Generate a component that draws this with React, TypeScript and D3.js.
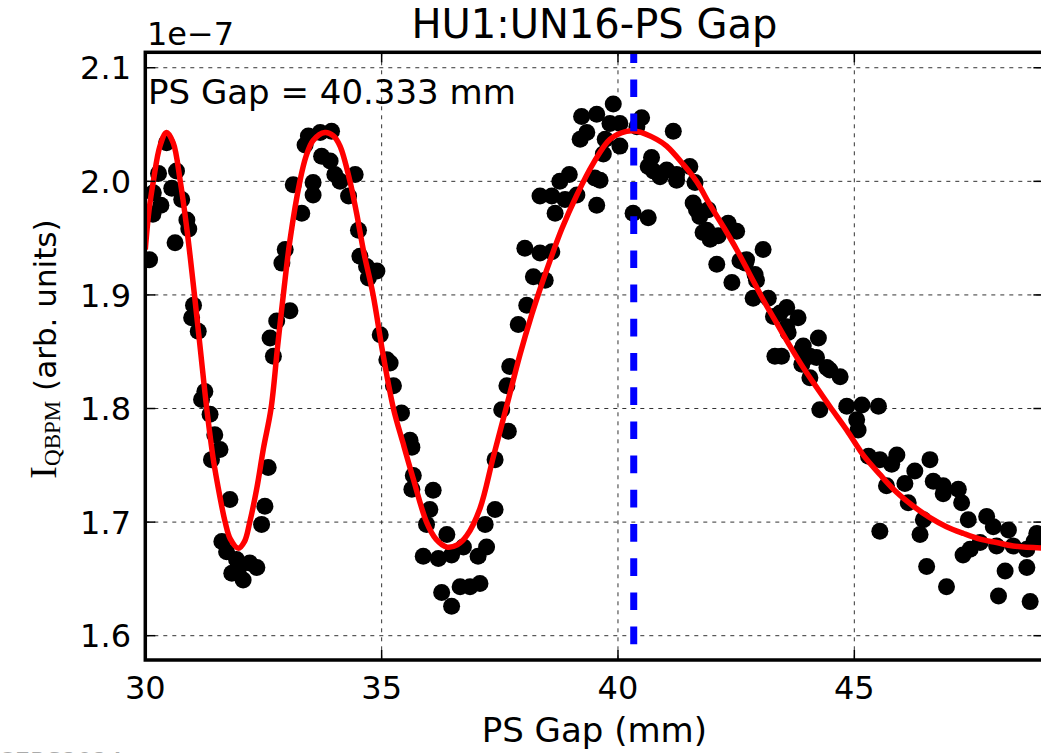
import React from "react";
import * as d3 from "d3";

// ---- data (x: PS gap in mm, y: I_QBPM in units of 1e-7) ----
const scatterGap = [
  30.09, 30.16, 30.17, 30.33, 30.28, 30.45, 30.66, 30.56, 30.77, 30.63, 30.88, 30.92,
  31.02, 30.98, 31.12, 31.26, 31.19, 31.37, 31.47, 31.58, 31.40, 31.79, 31.62, 31.72,
  31.93, 31.83, 32.07, 32.21, 32.36, 31.98, 32.46, 32.53, 32.60, 32.71, 32.64, 32.78,
  33.06, 32.89, 32.96, 33.13, 33.31, 33.55, 33.55, 33.38, 33.45, 33.70, 33.94, 33.73,
  33.91, 34.01, 34.44, 34.12, 34.30, 34.51, 34.54, 34.68, 34.90, 34.72, 34.97,
  35.11, 35.18, 35.25, 35.42, 35.64, 35.60, 35.67, 35.64, 36.09, 36.02, 35.95, 35.88,
  36.20, 36.38, 36.48, 36.73, 37.04, 37.22, 36.27, 36.48, 36.66, 36.87, 37.08, 37.19,
  37.40, 37.40, 37.54, 37.68, 37.65, 37.71, 37.89, 38.07, 38.21, 38.46, 38.03, 38.35,
  38.60, 38.35, 38.60, 38.67, 38.77, 38.88, 38.97, 39.13, 39.20, 39.23, 39.34, 39.51,
  39.55, 39.55, 39.69, 39.73, 39.62, 39.90, 39.83, 40.04, 40.04, 40.32, 40.50, 40.40,
  40.64, 40.71, 40.75,
  40.89, 41.17, 41.24, 41.52, 41.63, 41.59, 41.73, 41.91, 41.80, 41.95, 42.33, 42.51,
  42.09, 43.07, 42.58, 42.70, 42.90, 42.41, 42.86, 43.18, 43.29, 43.57, 43.81, 43.57,
  44.24, 43.32, 43.92, 44.20, 43.89, 44.42, 44.70, 43.60, 43.89, 44.06, 43.46, 44.27,
  44.84, 45.16, 45.51, 45.05, 45.08, 45.30, 45.54, 45.90, 45.79, 46.60, 46.28, 46.07,
  45.68, 46.67, 46.88, 47.20, 46.88, 47.27, 46.14, 46.46, 45.54, 46.39, 47.41, 47.80,
  47.94, 48.26, 47.66, 47.30, 47.45, 48.01, 48.36, 48.65, 48.86, 48.80, 48.19, 48.65,
  46.53, 46.95, 48.05, 48.72,
  40.64, 41.03, 41.24, 41.66, 41.88, 42.12, 42.72, 42.93, 43.43, 44.06, 44.48,
];
const scatterIntensity = [
  1.931, 1.971, 1.990, 1.979, 2.007, 2.034, 2.009, 1.994, 1.984, 1.946, 1.966, 1.958,
  1.891, 1.880, 1.868, 1.815, 1.808, 1.795, 1.777, 1.764, 1.755, 1.720, 1.683, 1.674,
  1.667, 1.655, 1.649, 1.664, 1.660, 1.660, 1.698, 1.714, 1.748, 1.846, 1.862, 1.877,
  1.886, 1.928, 1.940, 1.997, 1.972, 1.999, 1.988, 2.032, 2.040, 2.043, 2.044, 2.022,
  2.018, 2.006, 2.006, 2.000, 1.987, 1.957, 1.934, 1.925, 1.921, 1.915, 1.865,
  1.843, 1.840, 1.820, 1.796, 1.766, 1.772, 1.741, 1.729, 1.728, 1.711, 1.698, 1.670,
  1.668, 1.689, 1.671, 1.678, 1.670, 1.678, 1.638, 1.626, 1.643, 1.643, 1.646, 1.698,
  1.711, 1.755, 1.799, 1.780, 1.820, 1.837, 1.874, 1.891, 1.916, 1.913, 1.941, 1.937,
  1.938, 1.987, 1.987, 1.972, 2.000, 1.984, 2.006, 1.988, 2.037, 2.057, 2.043, 2.003,
  2.059, 1.979, 2.024, 2.037, 2.001, 2.068, 2.051, 2.031, 2.051, 1.972, 2.056, 2.048,
  1.968, 2.021, 2.009,
  2.004, 2.044, 2.006, 2.013, 1.999, 1.981, 1.969, 1.975, 1.955, 1.949, 1.963, 1.956,
  1.927, 1.940, 1.930, 1.928, 1.918, 1.911, 1.897, 1.897, 1.881, 1.889, 1.880, 1.872,
  1.862, 1.846, 1.855, 1.845, 1.839, 1.836, 1.828, 1.867, 1.852, 1.827, 1.846, 1.799,
  1.802, 1.803, 1.802, 1.790, 1.781, 1.758, 1.755, 1.759, 1.751, 1.755, 1.745, 1.734,
  1.732, 1.736, 1.732, 1.729, 1.725, 1.717, 1.717, 1.702, 1.692, 1.689, 1.702, 1.705,
  1.696, 1.693, 1.682, 1.671, 1.676, 1.679, 1.679, 1.676, 1.690, 1.683, 1.657, 1.660,
  1.661, 1.643, 1.635, 1.630,
  2.013, 2.010, 2.001, 1.975, 1.957, 1.952, 1.931, 1.913, 1.884, 1.846, 1.834,
];

const fitGap = [
  30.0, 30.08, 30.17, 30.31, 30.45, 30.59, 30.74, 30.88, 31.04, 31.17, 31.3, 31.44,
  31.58, 31.69, 31.8, 31.97, 32.1, 32.21, 32.36, 32.5, 32.66, 32.8, 32.92, 33.06,
  33.27, 33.4, 33.55, 33.8, 33.98, 34.12, 34.33, 34.47, 34.62, 34.82, 35.02, 35.25,
  35.45, 35.67, 35.95, 36.15, 36.38, 36.6, 36.8, 37.08, 37.36, 37.65, 37.93, 38.17,
  38.35, 38.56, 38.81, 39.13, 39.48, 39.83, 40.18, 40.4, 40.82, 41.03, 41.38, 41.66,
  41.95, 42.23, 42.51, 42.79, 43.07, 43.36, 43.64, 43.92, 44.13, 44.48, 44.84, 45.19,
  45.54, 45.9, 46.25, 46.6, 46.95, 47.31, 47.66, 48.01, 48.36, 49.0,
];
const fitIntensity = [
  1.940, 1.975, 2.000, 2.031, 2.043, 2.034, 2.000, 1.958, 1.900, 1.850, 1.800, 1.755,
  1.722, 1.700, 1.685, 1.677, 1.683, 1.700, 1.730, 1.765, 1.800, 1.855, 1.900, 1.948,
  2.000, 2.022, 2.036, 2.043, 2.040, 2.031, 2.000, 1.972, 1.938, 1.900, 1.850, 1.800,
  1.770, 1.738, 1.700, 1.685, 1.678, 1.680, 1.688, 1.712, 1.757, 1.803, 1.848, 1.882,
  1.905, 1.930, 1.958, 1.988, 2.016, 2.037, 2.044, 2.044, 2.037, 2.031, 2.015, 2.000,
  1.979, 1.960, 1.940, 1.918, 1.896, 1.875, 1.855, 1.836, 1.823, 1.802, 1.781, 1.759,
  1.742, 1.726, 1.714, 1.704, 1.696, 1.690, 1.685, 1.682, 1.679, 1.677,
];

const markerGap = 40.333;
const xTicks = [30, 35, 40, 45];
const yTicks = [1.6, 1.7, 1.8, 1.9, 2.0, 2.1];
const xDomain = [30, 49];
const yDomain = [1.5786, 2.1136];

const titleText = "HU1:UN16-PS Gap";
const xLabelText = "PS Gap (mm)";
const offsetText = "1e\u22127";
const annotationText = `PS Gap = ${markerGap.toFixed(3)} mm`;

export default function App() {
  const W = 1041;
  const H = 753;
  const left = 145.3;
  const right = 1043.4;
  const top = 52.3;
  const bottom = 660;

  const x = d3.scaleLinear().domain(xDomain).range([left, right]);
  const y = d3.scaleLinear().domain(yDomain).range([bottom, top]);

  const fitData = fitGap.map((g, i) => [g, fitIntensity[i]] as [number, number]);
  const line = d3
    .line<[number, number]>()
    .x((d) => x(d[0]))
    .y((d) => y(d[1]))
    .curve(d3.curveCatmullRom.alpha(0.5));

  const font = "DejaVu Sans, sans-serif";
  const tickLen = 10;

  return (
    <svg
      width={W}
      height={H}
      style={{ position: "absolute", left: 0, top: 0, display: "block", background: "#fff" }}
    >
      <defs>
        <clipPath id="plotClip">
          <rect x={left} y={top} width={right - left} height={bottom - top} />
        </clipPath>
      </defs>
      <rect x={0} y={0} width={W} height={H} fill="#fff" />

      {/* grid */}
      <g stroke="#333" strokeWidth={1} strokeDasharray="4,5">
        {xTicks.map((t) => (
          <line key={"gx" + t} x1={x(t)} x2={x(t)} y1={top} y2={bottom} />
        ))}
        {yTicks.map((t) => (
          <line key={"gy" + t} x1={left} x2={right} y1={y(t)} y2={y(t)} />
        ))}
      </g>

      <g clipPath="url(#plotClip)">
        {scatterGap.map((g, i) => (
          <circle key={"p" + i} cx={x(g)} cy={y(scatterIntensity[i])} r={8.5} fill="#000" />
        ))}
        <path d={line(fitData) || ""} fill="none" stroke="#ff0000" strokeWidth={5.5} />
        <line
          x1={x(markerGap)}
          x2={x(markerGap)}
          y1={bottom}
          y2={top}
          stroke="#0000ff"
          strokeWidth={7}
          strokeDasharray="17.7,16.5"
          strokeDashoffset={18.5}
        />
      </g>

      {/* ticks (inward, all sides) */}
      <g stroke="#000" strokeWidth={1.5}>
        {xTicks.map((t) => (
          <g key={"tx" + t}>
            <line x1={x(t)} x2={x(t)} y1={bottom} y2={bottom - tickLen} />
            <line x1={x(t)} x2={x(t)} y1={top} y2={top + tickLen} />
          </g>
        ))}
        {yTicks.map((t) => (
          <g key={"ty" + t}>
            <line x1={left} x2={left + tickLen} y1={y(t)} y2={y(t)} />
            <line x1={right} x2={right - tickLen} y1={y(t)} y2={y(t)} />
          </g>
        ))}
      </g>

      {/* spines */}
      <rect
        x={left}
        y={top}
        width={right - left}
        height={bottom - top}
        fill="none"
        stroke="#000"
        strokeWidth={3.5}
      />

      {/* tick labels */}
      <g fontFamily={font} fontSize={32} fill="#000">
        {xTicks.map((t) => (
          <text key={"lx" + t} x={x(t)} y={699} textAnchor="middle">
            {d3.format("d")(t)}
          </text>
        ))}
        {yTicks.map((t) => (
          <text key={"ly" + t} x={131} y={y(t) + 11.7} textAnchor="end">
            {d3.format(".1f")(t)}
          </text>
        ))}
      </g>

      {/* offset text */}
      <text x={147} y={45} fontFamily={font} fontSize={32} fill="#000">
        {offsetText}
      </text>

      {/* title */}
      <text x={(left + right) / 2} y={38} fontFamily={font} fontSize={40} textAnchor="middle" fill="#000">
        {titleText}
      </text>

      {/* annotation */}
      <text x={148} y={104} fontFamily={font} fontSize={34} fill="#000">
        {annotationText}
      </text>

      {/* x label */}
      <text x={(left + right) / 2} y={742} fontFamily={font} fontSize={34} textAnchor="middle" fill="#000">
        {xLabelText}
      </text>

      {/* y label */}
      <text transform="translate(56,349) rotate(-90)" textAnchor="middle" fill="#000">
        <tspan fontFamily="Liberation Serif, DejaVu Serif, serif" fontSize={38}>I</tspan>
        <tspan fontFamily="Liberation Serif, DejaVu Serif, serif" fontSize={23} dy={4}>QBPM</tspan>
        <tspan fontFamily={font} fontSize={31} dy={-4}>{" (arb. units)"}</tspan>
      </text>

      {/* faint watermark at the bottom edge (cut off in the reference too) */}
      <text x={-2} y={770} fontFamily={font} fontSize={24} fill="#aaa">
        CERS2024
      </text>
    </svg>
  );
}
